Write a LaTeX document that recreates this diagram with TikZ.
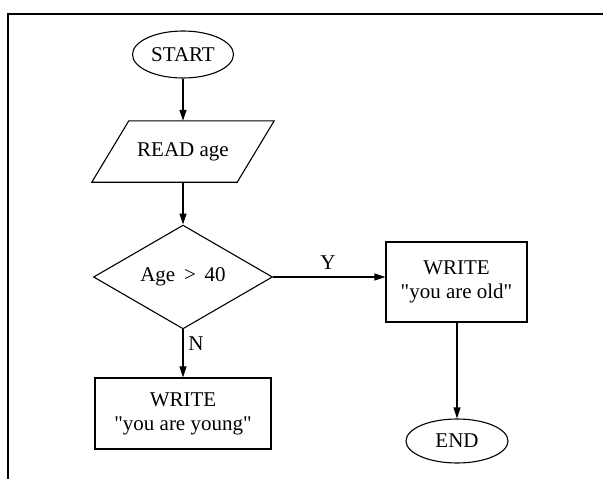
\documentclass[tikz,border=0pt]{standalone}
\usepackage{fontspec}
\setmainfont{Liberation Serif}[Ligatures=TeXOff]
\usetikzlibrary{arrows.meta,shapes.geometric,calc}
\begin{document}
\begin{tikzpicture}[x=1pt,y=-1pt,
  every node/.style={font=\fontsize{21}{24}\selectfont, inner sep=0pt},
  shapeline/.style={draw, line width=1.1pt},
  term/.style={shapeline, ellipse},
  io/.style={rectangle},
  decision/.style={shapeline, diamond},
  procbox/.style={shapeline, rectangle, align=center},
  flow/.style={line width=1.1pt, -{Triangle[length=11pt,width=7pt]}},
  lbl/.style={}
]
\useasboundingbox (0,0) rectangle (603,479);
\draw[line width=1.8pt] (8,479) -- (8,14) -- (603,14);

\node[term, minimum width=101pt, minimum height=47pt] (start) at (183,54.5) {START};
\node[io, minimum width=145pt, minimum height=61pt] (read) at (183,151.5) {READ age};
\draw[shapeline] ([xshift=18.5pt]read.north west) -- ([xshift=18.5pt]read.north east)
  -- ([xshift=-18.5pt]read.south east) -- ([xshift=-18.5pt]read.south west) -- cycle;
\node[decision, minimum width=179pt, minimum height=98pt] (dec) at (183,277) {Age \,>\, 40};
\node[procbox, minimum width=141pt, minimum height=80pt] (old) at (456.5,282) {WRITE\\"you are old"};
\node[procbox, minimum width=176pt, minimum height=71pt] (young) at (183,413.5) {WRITE\\"you are young"};
\node[term, minimum width=102pt, minimum height=44pt] (end) at (457,441) {END};

\node[lbl] (ylab) at (328,263) {Y};
\node[lbl] (nlab) at (196,344) {N};

\draw[flow] (start.south) -- (read.north);
\draw[flow] (read.south) -- (dec.north);
\draw[flow] (dec.east) -- (dec.east -| old.west);
\draw[flow] (dec.south) -- (young.north);
\draw[flow] (old.south -| end.north) -- (end.north);
\end{tikzpicture}
\end{document}
